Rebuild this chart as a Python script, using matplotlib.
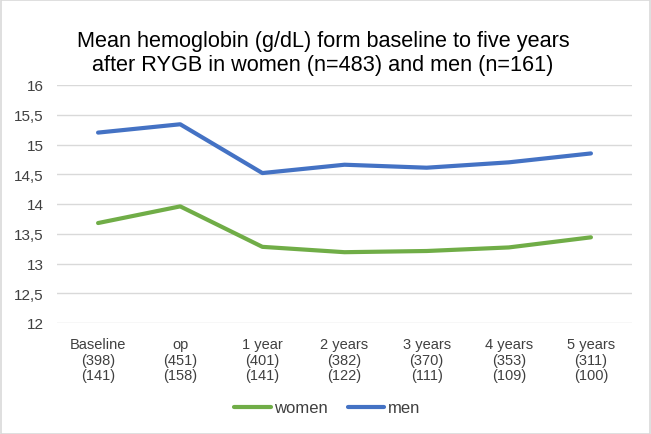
import matplotlib
matplotlib.use("Agg")
import matplotlib.pyplot as plt

categories = ["Baseline\n(398)\n(141)", "op\n(451)\n(158)", "1 year\n(401)\n(141)",
              "2 years\n(382)\n(122)", "3 years\n(370)\n(111)", "4 years\n(353)\n(109)",
              "5 years\n(311)\n(100)"]
women = [13.68, 13.96, 13.28, 13.19, 13.21, 13.27, 13.44]
men = [15.20, 15.34, 14.52, 14.66, 14.61, 14.70, 14.85]
yticks = [12, 12.5, 13, 13.5, 14, 14.5, 15, 15.5, 16]
ytick_labels = ["12", "12,5", "13", "13,5", "14", "14,5", "15", "15,5", "16"]

plt.rcParams['font.family'] = ['Liberation Sans', 'DejaVu Sans']

fig = plt.figure(figsize=(6.51, 4.35), dpi=100)
ax = fig.add_axes([57/651, 1-324/435, (632-57)/651, (324-86)/435])

x = list(range(len(categories)))
ax.plot(x, women, color="#70AD47", lw=3.0, label="women", solid_capstyle="round")
ax.plot(x, men, color="#4472C4", lw=3.0, label="men", solid_capstyle="round")

ax.set_xlim(-0.5, len(categories) - 0.5)
ax.set_ylim(12, 16)
ax.set_yticks(yticks)
ax.set_yticklabels(ytick_labels, fontsize=11, color="#404040")
ax.set_xticks(x)
ax.set_xticklabels(categories, fontsize=10.5, color="#404040", linespacing=1.15)
ax.tick_params(axis="y", length=0, pad=9.5)
ax.tick_params(axis="x", length=0, pad=10)
ax.grid(axis="y", color="#D9D9D9", lw=1)
ax.set_axisbelow(True)
for s in ax.spines.values():
    s.set_visible(False)

fig.text(323/651, 1-53.5/435, "Mean hemoglobin (g/dL) form baseline to five years\nafter RYGB in women (n=483) and men (n=161)",
         ha="center", va="center", fontsize=15.6, color="#000000", linespacing=1.24)

leg = fig.legend(loc="center", bbox_to_anchor=(327/651, 1-409/435), ncol=2, frameon=False,
                 fontsize=12, handlelength=2.2, handletextpad=0.2, columnspacing=1.2)
for t in leg.get_texts():
    t.set_color("#404040")

fig.patches.append(matplotlib.patches.Rectangle((0.001, 0.001), 0.997, 0.997, transform=fig.transFigure,
                                                fill=False, edgecolor="#D9D9D9", lw=1.2))

fig.savefig("out.png", dpi=100)
